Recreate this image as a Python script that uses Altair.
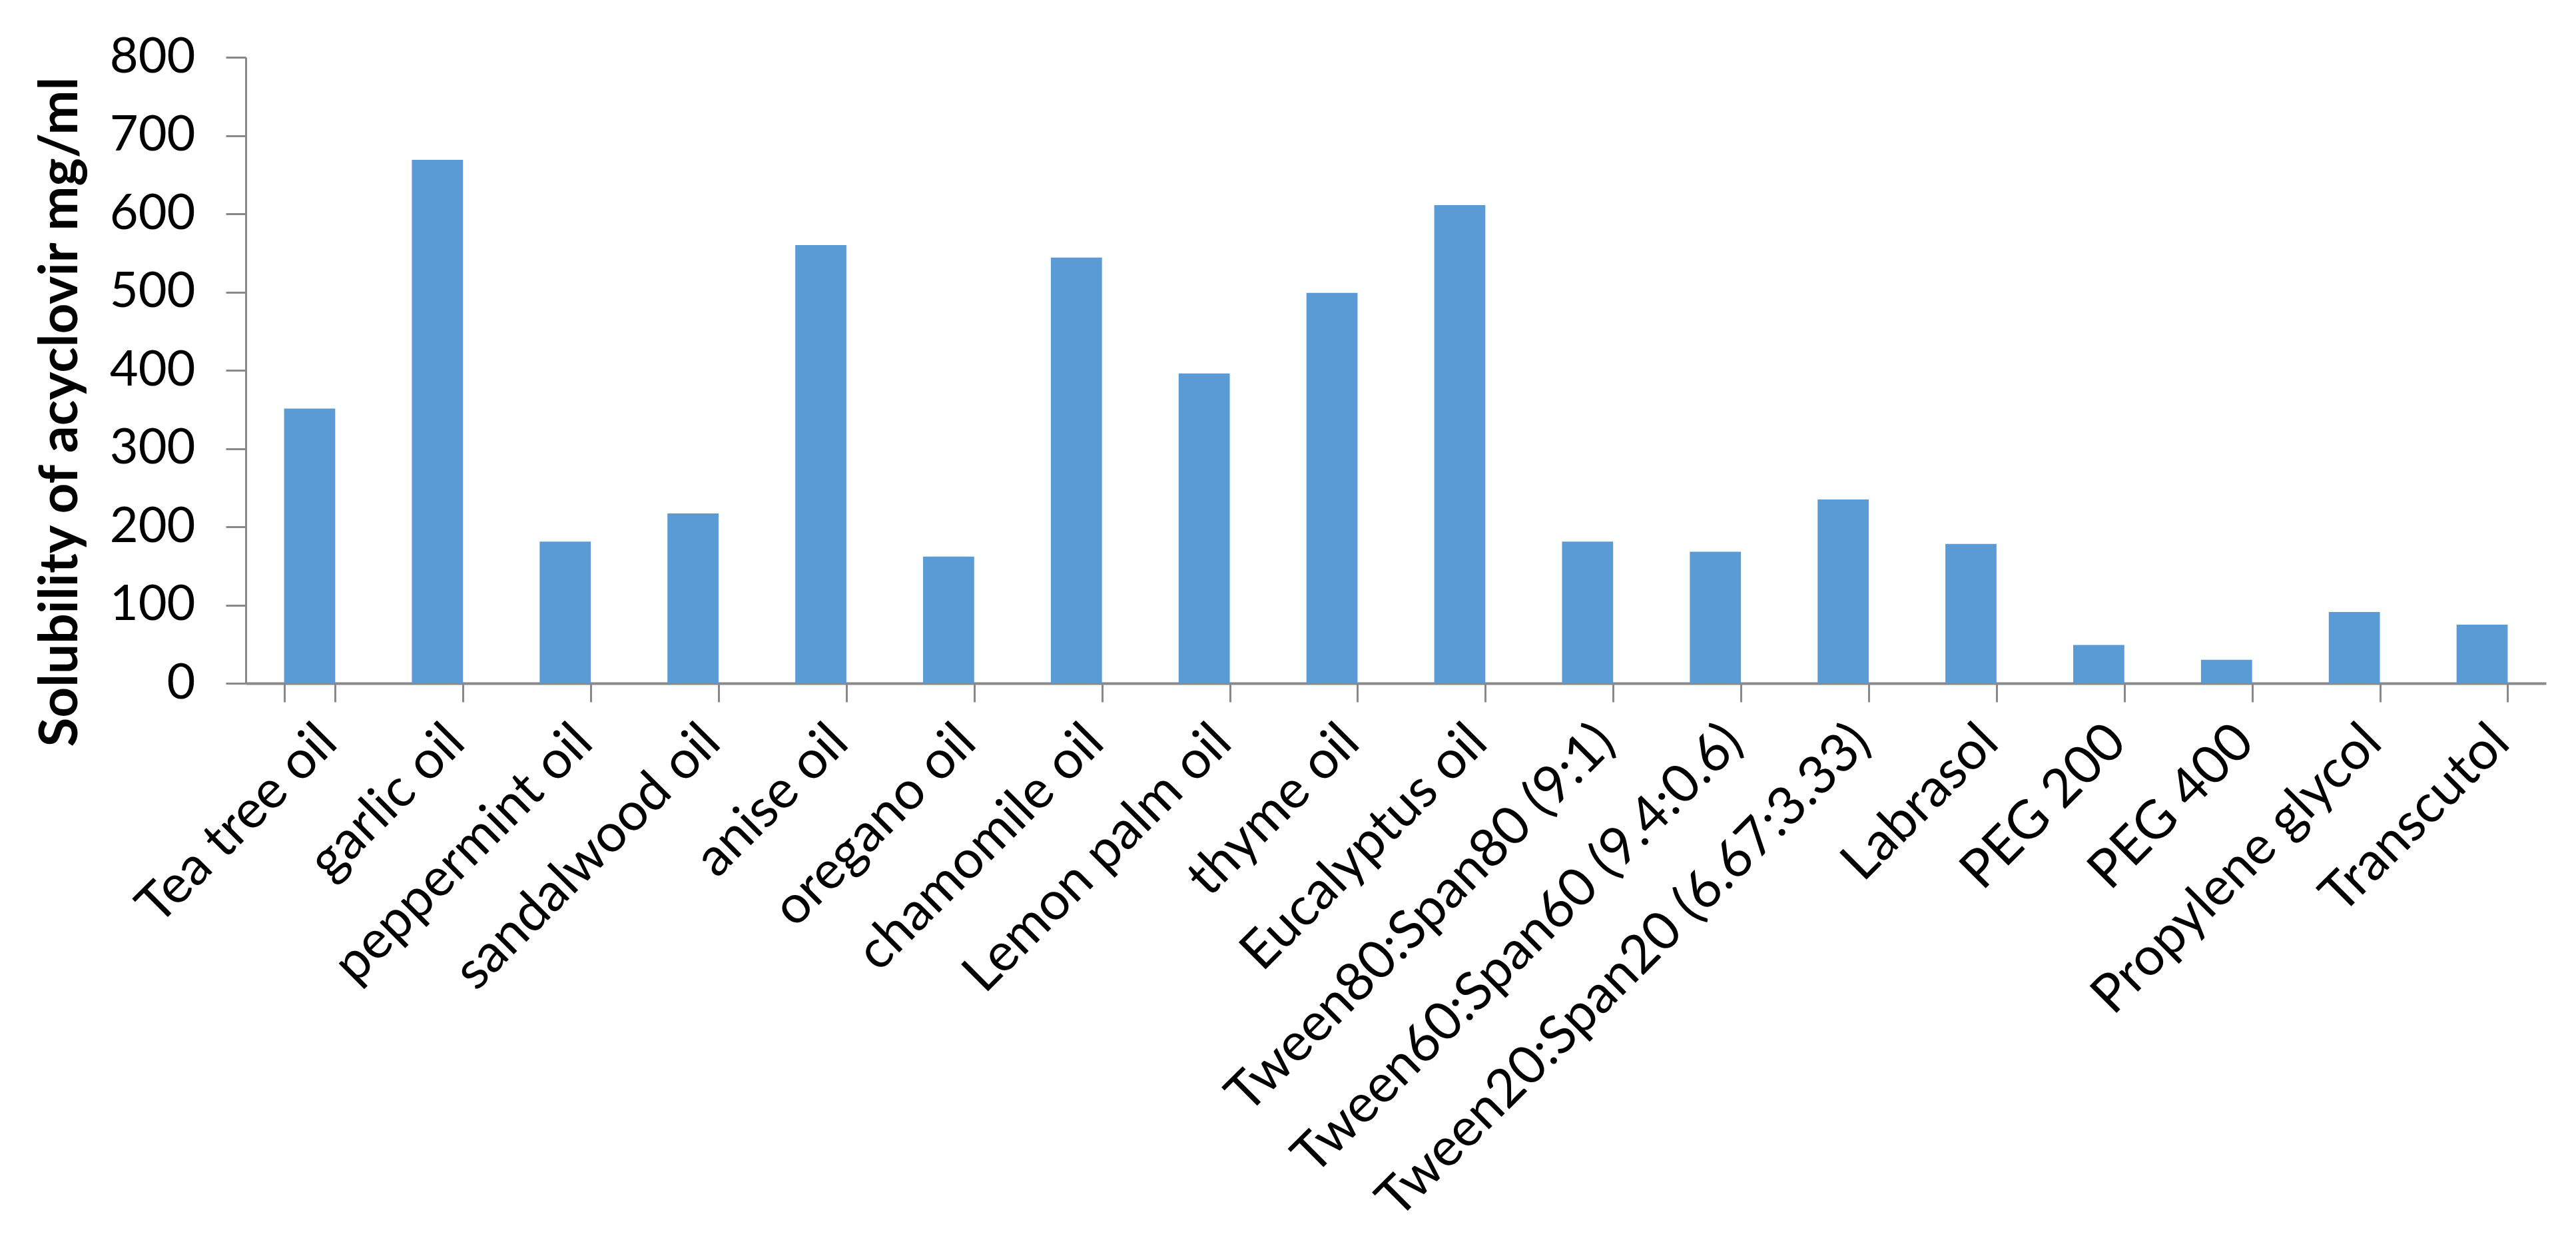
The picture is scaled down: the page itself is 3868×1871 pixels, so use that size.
import altair as alt
import pandas as pd

categories = [
    "Tea tree oil", "garlic oil", "peppermint oil", "sandalwood oil", "anise oil",
    "oregano oil", "chamomile oil", "Lemon palm oil", "thyme oil", "Eucalyptus oil",
    "Tween80:Span80 (9:1)", "Tween60:Span60 (9.4:0.6)", "Tween20:Span20 (6.67:3.33)",
    "Labrasol", "PEG 200", "PEG 400", "Propylene glycol", "Transcutol",
]
solubility = [351, 669, 181, 217, 560, 162, 544, 396, 499, 611,
              181, 168, 235, 178, 49, 30, 91, 75]
y_ticks = [0, 100, 200, 300, 400, 500, 600, 700, 800]

df = pd.DataFrame({"cat": categories, "val": solubility})

FONT = "Lato"
AX = "#898989"

chart = alt.Chart(df).mark_bar(color="#5B9BD5").encode(
    x=alt.X("cat:N", sort=categories, title=None,
            scale=alt.Scale(paddingInner=0.6, paddingOuter=0.3),
            axis=alt.Axis(labelAngle=-45, labelFont=FONT, labelFontSize=80,
                          labelColor="#000000", labelPadding=20,
                          tickBand="extent", tickSize=28, tickWidth=3,
                          tickColor=AX, domainColor=AX, domainWidth=4,
                          labelLimit=2000, labelOverlap=False)),
    y=alt.Y("val:Q", title="Solubility of acyclovir mg/ml",
            scale=alt.Scale(domain=[0, 800], nice=False),
            axis=alt.Axis(values=y_ticks, grid=False, labelFont=FONT,
                          labelFontSize=74, labelColor="#000000", labelPadding=46,
                          tickSize=30, tickWidth=3, tickColor=AX,
                          domainColor=AX, domainWidth=3,
                          titleFont=FONT, titleFontSize=80, titleFontWeight="bold",
                          titleColor="#000000", titleAngle=-90,
                          titleAlign="center", titleBaseline="middle",
                          titleX=-278, titleY=532)),
).properties(
    width=3454, height=940,
    background="white",
    autosize=alt.AutoSizeParams(type="none"),
    padding={"left": 361, "top": 78, "right": 37, "bottom": 837},
).configure_view(strokeWidth=0, stroke=None)

chart.save("out.html", embed_options={"renderer": "svg", "actions": False})
